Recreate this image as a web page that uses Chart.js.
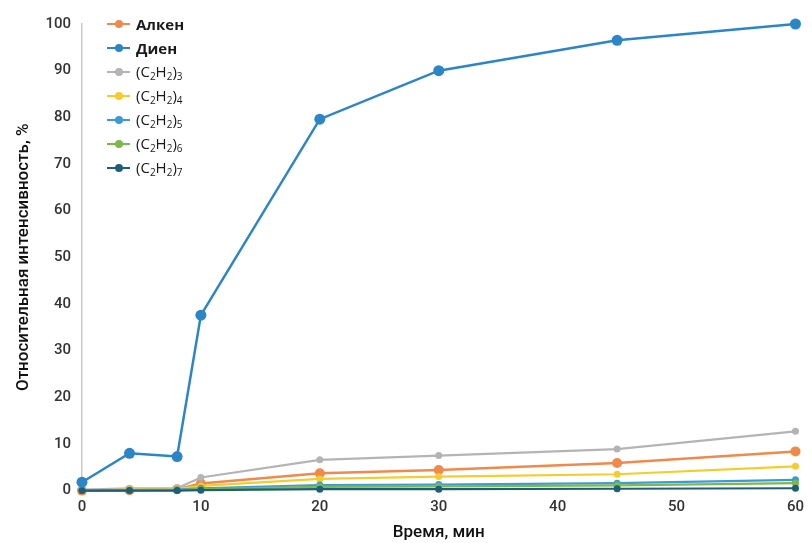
<!DOCTYPE html>
<html>
<head>
<meta charset="utf-8">
<script src="https://cdn.jsdelivr.net/npm/chart.js@4"></script>
<style>
  html, body { margin: 0; padding: 0; background: #fff; }
  #wrap { position: relative; width: 812px; height: 543px; }
  #legend { position: absolute; left: 107px; top: 12px; font-family: "Open Sans", sans-serif; font-size: 15px; color: #1a1a1a; }
  #legend .item { display: flex; align-items: center; height: 24px; }
  #legend .item.bold { font-weight: bold; }
  #legend .sw { position: relative; width: 23px; height: 10px; margin-right: 6px; }
  #legend .sw i { position: absolute; left: 0; right: 0; top: 4px; height: 2px; }
  #legend .sw b { position: absolute; left: 8px; top: 1px; width: 8px; height: 8px; border-radius: 50%; }
  #legend sub { font-size: 10px; vertical-align: -3px; }
</style>
</head>
<body>
<div id="wrap">
  <canvas id="chart"></canvas>
  <div id="legend"></div>
</div>
<script>
/* ── Data ── */
const times   = [0, 4, 8, 10, 20, 30, 45, 60];
const alkene  = [0.0, 0.1, 0.3, 1.5, 3.7, 4.4, 5.9, 8.4];
const diene   = [1.8, 8.0, 7.3, 37.6, 79.6, 90.0, 96.5, 100];
const c2h2_3  = [0.2, 0.5, 0.5, 2.8, 6.6, 7.5, 8.9, 12.7];
const c2h2_4  = [0.0, 0.2, 0.3, 1.0, 2.5, 3.0, 3.5, 5.2];
const c2h2_5  = [0.0, 0.1, 0.2, 0.5, 1.2, 1.3, 1.6, 2.3];
const c2h2_6  = [0.0, 0.1, 0.1, 0.3, 0.8, 0.9, 1.1, 1.6];
const c2h2_7  = [0.0, 0.0, 0.0, 0.1, 0.3, 0.3, 0.4, 0.5];
const xTicks  = [0, 10, 20, 30, 40, 50, 60];
const yTicks  = [0, 10, 20, 30, 40, 50, 60, 70, 80, 90, 100];

const series = [
  { label: 'Алкен',  html: 'Алкен',  data: alkene, color: '#ef8a4c', r: 5,   bold: true },
  { label: 'Диен',   html: 'Диен',   data: diene,  color: '#2b85c7', r: 5.5, bold: true },
  { label: '(C₂H₂)₃', html: '(C<sub>2</sub>H<sub>2</sub>)<sub>3</sub>', data: c2h2_3, color: '#b4b4b4', r: 3.5 },
  { label: '(C₂H₂)₄', html: '(C<sub>2</sub>H<sub>2</sub>)<sub>4</sub>', data: c2h2_4, color: '#f4cd2c', r: 3.5 },
  { label: '(C₂H₂)₅', html: '(C<sub>2</sub>H<sub>2</sub>)<sub>5</sub>', data: c2h2_5, color: '#3c9ad5', r: 3.5 },
  { label: '(C₂H₂)₆', html: '(C<sub>2</sub>H<sub>2</sub>)<sub>6</sub>', data: c2h2_6, color: '#7cb84a', r: 3.5 },
  { label: '(C₂H₂)₇', html: '(C<sub>2</sub>H<sub>2</sub>)<sub>7</sub>', data: c2h2_7, color: '#1e5e78', r: 3.5 },
];

const datasets = series.map((s, i) => ({
  label: s.label,
  data: s.data.map((v, k) => ({ x: times[k], y: v })),
  borderColor: s.color,
  backgroundColor: s.color,
  pointBackgroundColor: s.color,
  pointBorderWidth: 0,
  pointRadius: s.r,
  borderWidth: i < 2 ? 2.5 : 2.2,
  tension: 0,
  clip: false,
  order: i === 1 ? 0 : 10 - i,
}));

const tickFont  = { family: 'Roboto, Arial, sans-serif', size: 15, weight: 500 };
const titleFont = { family: 'Roboto, Arial, sans-serif', size: 17, weight: 500 };

new Chart(document.getElementById('chart'), {
  type: 'line',
  data: { datasets },
  options: {
    responsive: true,
    maintainAspectRatio: false,
    animation: false,
    layout: { padding: { top: 24, right: 8, left: 14, bottom: 0 } },
    plugins: {
      legend: { display: false },
      tooltip: { enabled: false },
    },
    scales: {
      x: {
        type: 'linear',
        min: 0, max: 60,
        afterBuildTicks: ax => { ax.ticks = xTicks.map(v => ({ value: v })); },
        grid: { display: false, drawTicks: false },
        border: { display: false },
        ticks: { color: '#333', font: tickFont, padding: 8 },
        title: { display: true, text: 'Время, мин', color: '#111', font: titleFont, padding: { top: -2, bottom: 0 } },
      },
      y: {
        min: 0, max: 100,
        afterBuildTicks: ax => { ax.ticks = yTicks.map(v => ({ value: v })); },
        grid: { display: false, drawTicks: false },
        border: { display: true, color: '#c8c8c8', width: 1.5 },
        ticks: { color: '#333', font: tickFont, padding: 11 },
        title: { display: true, text: 'Относительная интенсивность, %', color: '#111', font: titleFont, padding: { top: 0, bottom: 0 } },
      }
    }
  }
});

/* ── Legend ── */
const legend = document.getElementById('legend');
series.forEach(s => {
  const row = document.createElement('div');
  row.className = 'item' + (s.bold ? ' bold' : '');
  row.innerHTML = `<span class="sw"><i style="background:${s.color}"></i><b style="background:${s.color}"></b></span><span>${s.html}</span>`;
  legend.appendChild(row);
});
</script>
</body>
</html>
